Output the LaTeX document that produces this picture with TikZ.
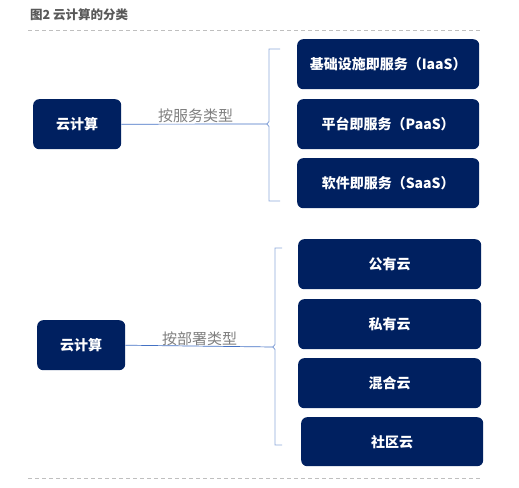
\documentclass[tikz,border=0pt]{standalone}
\usepackage{fontspec}
\setmainfont{Noto Sans CJK SC}
\begin{document}
\begin{tikzpicture}[x=1pt,y=-1pt,
  box/.style={fill=navy,rounded corners=6pt,text=white,font=\bfseries\fontsize{14}{16}\selectfont,inner sep=0pt,anchor=north west},
  conn/.style={draw=linkblue,line width=0.7pt},
  brace/.style={draw=bracegray,line width=0.9pt},
  lbl/.style={text=lblgray,font=\fontsize{15}{17}\selectfont,inner sep=1pt},
  sep/.style={draw=sepgray,dashed,line width=0.6pt,dash pattern=on 4pt off 3pt}]
\definecolor{navy}{HTML}{002060}
\definecolor{linkblue}{HTML}{4472C4}
\definecolor{bracegray}{HTML}{8EA9DB}
\definecolor{lblgray}{HTML}{7F7F7F}
\definecolor{sepgray}{HTML}{BFBFBF}
\definecolor{titlegray}{HTML}{595959}
\useasboundingbox (0,0) rectangle (519,487);
% title & separators
\node[anchor=west,text=titlegray,font=\bfseries\fontsize{12.5}{14}\selectfont,inner sep=0pt] (title) at (30,15) {图2 云计算的分类};
\coordinate (s1a) at (28,30); \coordinate (s1b) at (480,30);
\coordinate (s2a) at (28,478); \coordinate (s2b) at (480,478);
\draw[sep] (s1a) -- (s1b);
\draw[sep] (s2a) -- (s2b);
% top group
\node[box,minimum width=88pt,minimum height=50pt] (L1) at (33,99) {云计算};
\node[box,minimum width=182pt,minimum height=50pt] (R1) at (297,39) {基础设施即服务（IaaS）};
\node[box,minimum width=182pt,minimum height=50pt] (R2) at (297,99) {平台即服务（PaaS）};
\node[box,minimum width=182pt,minimum height=50pt] (R3) at (297,158) {软件即服务（SaaS）};
\coordinate (b1t) at (280,49); \coordinate (b1b) at (280,201);
\coordinate (b1c) at (267,124);
\draw[brace] (b1t) -- (269,49) -- (269,121.5) -- (b1c) -- (269,126.5) -- (269,201) -- (b1b);
\draw[conn] (L1.east) -- (b1c);
\node[lbl] (lab1) at (195.5,116) {按服务类型};
% bottom group
\node[box,minimum width=88pt,minimum height=50pt] (L2) at (37,320) {云计算};
\node[box,minimum width=183pt,minimum height=50pt] (S1) at (298,239) {公有云};
\node[box,minimum width=183pt,minimum height=50pt] (S2) at (298,299) {私有云};
\node[box,minimum width=183pt,minimum height=50pt] (S3) at (298,358) {混合云};
\node[box,minimum width=182pt,minimum height=49pt] (S4) at (301,417) {社区云};
\coordinate (b2t) at (282,248); \coordinate (b2b) at (282,445);
\coordinate (b2c) at (273,347);
\draw[brace] (b2t) -- (275,248) -- (275,344.5) -- (b2c) -- (275,349.5) -- (275,445) -- (b2b);
\draw[conn] (L2.east) -- (b2c);
\node[lbl] (lab2) at (199.5,339) {按部署类型};
\end{tikzpicture}
\end{document}
